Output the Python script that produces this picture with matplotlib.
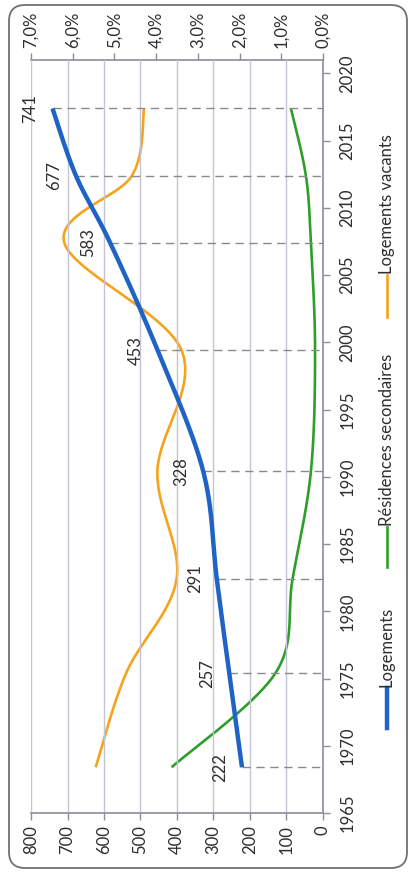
import numpy as np
import matplotlib
matplotlib.use("Agg")
from matplotlib import pyplot as plt
from matplotlib.lines import Line2D
from matplotlib.patches import FancyBboxPatch
from matplotlib.transforms import IdentityTransform

# census years and values
years = [1968, 1975, 1982, 1990, 1999, 2007, 2012, 2017]
logements = [222, 257, 291, 328, 453, 583, 677, 741]
vacants_pct = [5.45, 4.72, 3.51, 3.97, 3.39, 6.2, 4.58, 4.29]
secondaires_pct = [3.63, 1.14, 0.73, 0.29, 0.19, 0.29, 0.41, 0.77]

year_ticks = list(range(1965, 2021, 5))
value_ticks = list(range(0, 801, 100))
pct_ticks = list(range(0, 8))

BLUE = "#1f63c6"
ORANGE = "#f5a31c"
GREEN = "#2e9e2b"
TEXT = "#2e2e2e"
AXIS = "#8c8c9c"
GRID = "#c4c4d4"
YEAR_SHIFT = 0.4  # points sit a bit after the tick of their year
FS = 12

plt.rcParams['font.family'] = ['Lato', 'DejaVu Sans']
plt.rcParams['font.size'] = FS

W, H = 409, 886
fig = plt.figure(figsize=(W / 100, H / 100), dpi=100)
ax = fig.add_axes([31 / W, (H - 813) / H, 292 / W, 753 / H])
ax2 = ax.twiny()

ax.set_xlim(800, 0)
ax.set_ylim(1965, 2021)
ax2.set_xlim(7, 0)


def smooth(axis, xs, ys, n=40):
    """Excel-like smoothed line, built in screen space."""
    p = axis.transData.transform(np.column_stack([xs, ys]))
    p = np.vstack([p[0], p, p[-1]])
    out = []
    t = np.linspace(0, 1, n)[:, None]
    for i in range(1, len(p) - 2):
        p0, p3 = p[i], p[i + 1]
        c1 = p0 + (p[i + 1] - p[i - 1]) / 6
        c2 = p3 - (p[i + 2] - p[i]) / 6
        seg = (1 - t) ** 3 * p0 + 3 * (1 - t) ** 2 * t * c1 + 3 * (1 - t) * t ** 2 * c2 + t ** 3 * p3
        out.append(seg)
    curve = axis.transData.inverted().transform(np.vstack(out))
    return curve[:, 0], curve[:, 1]


yrs = np.array(years) + YEAR_SHIFT

# grid
for v in value_ticks[1:]:
    ax.axvline(v, color=GRID, lw=1, zorder=0)

# dashed drop lines
for y, v in zip(yrs, logements):
    ax.plot([v, 0], [y, y], color="#8a8a8a", lw=1, ls=(0, (6, 4)), zorder=1)

sx, sy = smooth(ax2, vacants_pct, yrs)
ax2.plot(sx, sy, color=ORANGE, lw=1.9, solid_capstyle='butt', zorder=3)
sx, sy = smooth(ax2, secondaires_pct, yrs)
ax2.plot(sx, sy, color=GREEN, lw=1.9, solid_capstyle='butt', zorder=3)
sx, sy = smooth(ax, logements, yrs)
ax.plot(sx, sy, color=BLUE, lw=3.2, solid_capstyle='butt', zorder=4)
ax.set_zorder(2)
ax.patch.set_visible(False)

for y, v in zip(yrs, logements):
    ax.annotate(str(v), (v, y), xytext=(-22, 0), textcoords='offset pixels',
                rotation=90, ha='center', va='center', color=TEXT, fontsize=FS)

# axes styling
for a in (ax, ax2):
    for s in a.spines.values():
        s.set_visible(False)
ax.spines['bottom'].set_visible(True)
ax.spines['right'].set_visible(True)
ax2.spines['top'].set_visible(True)
for s in (ax.spines['bottom'], ax.spines['right'], ax2.spines['top']):
    s.set_color(AXIS)
    s.set_linewidth(1.2)

ax.set_xticks(value_ticks)
ax.set_xticklabels([str(v) for v in value_ticks], rotation=90)
ax.yaxis.tick_right()
ax.set_yticks(year_ticks)
ax.set_yticklabels([str(y) for y in year_ticks], rotation=90, va='center')
ax.tick_params(axis='both', colors=AXIS, labelcolor=TEXT, length=5, width=1, pad=4)
ax.tick_params(axis='y', pad=7)

ax2.set_xticks(pct_ticks)
ax2.set_xticklabels([f"{p},0%" for p in pct_ticks], rotation=90)
ax2.tick_params(axis='x', colors=AXIS, labelcolor=TEXT, length=5, width=1, pad=4)

# legend drawn vertically
legend = [("Logements", BLUE, 3.2, 728, 688),
          ("Résidences secondaires", GREEN, 1.9, 567, 527),
          ("Logements vacants", ORANGE, 1.9, 317, 275)]
for label, color, lw, y0, y1 in legend:
    fig.add_artist(Line2D([387 / W, 387 / W], [(H - y0) / H, (H - y1) / H],
                          color=color, lw=lw, transform=fig.transFigure))
    fig.text(387 / W, (H - y1 + 1) / H, label, rotation=90, ha='center', va='bottom',
             color=TEXT, fontsize=FS)

# rounded frame
frame = FancyBboxPatch((9, H - 868), 398, 863, boxstyle="round,pad=0,rounding_size=16",
                       fill=False, edgecolor="#707070", lw=1.3, transform=IdentityTransform())
fig.add_artist(frame)

fig.savefig("out.png", dpi=100)
